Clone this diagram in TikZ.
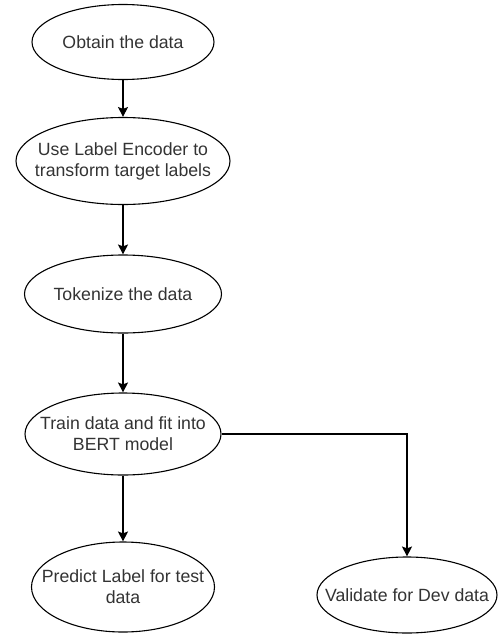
\documentclass[tikz,border=0pt]{standalone}
\usepackage{fontspec}
\setmainfont{Liberation Sans}
\usetikzlibrary{shapes.geometric, arrows.meta, positioning}
\tikzset{
    step node/.style = {draw, ellipse, line width=1.1pt, inner sep=0pt},
    step text/.style = {align=center, text=black!80, font=\fontsize{17.7}{21}\selectfont},
    flow edge/.style = {draw, line width=1.1pt, -{Stealth[length=10pt, width=10pt, inset=2pt]}},
}

\begin{document}
\begin{tikzpicture}[x=1pt, y=-1pt]
            \useasboundingbox (0, 0) rectangle (498, 635);

            \node[step node, minimum width=182pt, minimum height=75pt,
                label={[step text]center:Obtain the data}] (obtain) at (123, 42) {};
            \node[step node, minimum width=214pt, minimum height=87pt,
                label={[step text]center:Use Label Encoder to\\transform target labels}] (encode) at (123, 161) {};
            \node[step node, minimum width=197pt, minimum height=78pt,
                label={[step text]center:Tokenize the data}] (token) at (123, 294) {};
            \node[step node, minimum width=196pt, minimum height=82pt,
                label={[step text]center:Train data and fit into\\BERT model}] (train) at (123, 434) {};
            \node[step node, minimum width=183pt, minimum height=90pt,
                label={[step text]center:Predict Label for test\\data}] (predict) at (123, 587) {};
            \node[step node, minimum width=180pt, minimum height=76pt,
                label={[step text]center:Validate for Dev data}] (validate) at (407, 595) {};

            \draw[flow edge] (obtain) -- (encode);
            \draw[flow edge] (encode) -- (token);
            \draw[flow edge] (token) -- (train);
            \draw[flow edge] (train) -- (predict);
            \draw[flow edge] (train.east) -| (validate.north);
        \end{tikzpicture}
\end{document}
